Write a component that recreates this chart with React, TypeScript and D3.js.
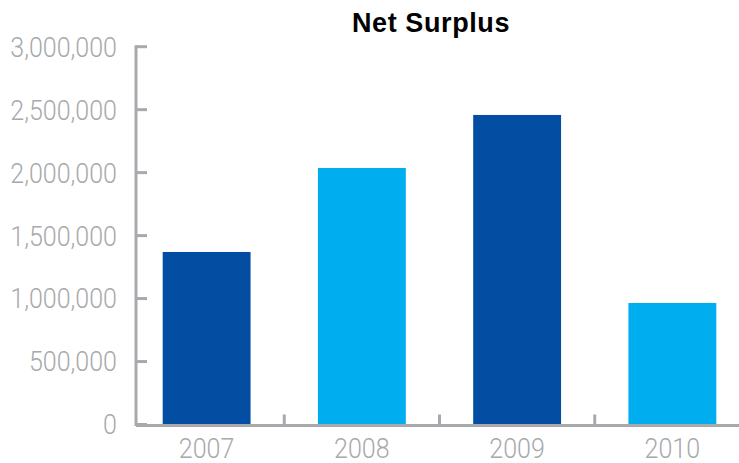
import React from "react";
import * as d3 from "d3";

const categories = ["2007", "2008", "2009", "2010"];
const values = [1370000, 2037000, 2458000, 965000];
const barColors = ["#034EA2", "#00AEEF", "#034EA2", "#00AEEF"];
const yTicks = [0, 500000, 1000000, 1500000, 2000000, 2500000, 3000000];
const title = "Net Surplus";

const W = 739;
const H = 463;
const axisX = 136;
const zeroY = 424.5;
const topY = 46.7;
const gray = "#A7A9AC";
const labelFont = "'Roboto', sans-serif";
const sx = 0.91;

export default function App() {
  const y = d3.scaleLinear().domain([0, 3000000]).range([zeroY, topY]);
  const x = d3.scaleBand<string>().domain(categories).range([129, 750]).paddingInner(0.434).paddingOuter(0.217);
  const fmt = d3.format(",");
  const bounds = categories.slice(1).map((c) => (x(c)! - (x.step() - x.bandwidth()) / 2));
  return (
    <svg width={W} height={H} style={{ position: "absolute", left: 0, top: 0 }}>
      <rect width={W} height={H} fill="#fff" />
      <text x={431} y={32} textAnchor="middle" fontFamily="'Liberation Sans', Arial, sans-serif" fontWeight="bold" fontSize={27} letterSpacing={0.6} fill="#000">
        {title}
      </text>
      {categories.map((c, i) => (
        <rect key={c} x={x(c)} y={y(values[i])} width={x.bandwidth()} height={zeroY - y(values[i])} fill={barColors[i]} />
      ))}
      <line x1={axisX} x2={axisX} y1={topY - 1.5} y2={zeroY + 1.5} stroke={gray} strokeWidth={3} />
      {yTicks.map((t) => (
        <g key={t}>
          <line x1={axisX} x2={147} y1={y(t)} y2={y(t)} stroke={gray} strokeWidth={3} />
          <g transform={`translate(117,${y(t)}) scale(${sx},1)`}>
            <text x={0} y={0} dy="0.36em" textAnchor="end" fontFamily={labelFont} fontWeight={300} fontSize={27.5} fill={gray}>
              {fmt(t)}
            </text>
          </g>
        </g>
      ))}
      <line x1={axisX} x2={W} y1={zeroY + 1} y2={zeroY + 1} stroke={gray} strokeWidth={3} />
      {bounds.map((b, i) => (
        <line key={i} x1={b} x2={b} y1={zeroY + 1} y2={zeroY - 10} stroke={gray} strokeWidth={3} />
      ))}
      {categories.map((c) => (
        <g key={c} transform={`translate(${x(c)! + x.bandwidth() / 2},458) scale(${sx},1)`}>
          <text x={0} y={0} textAnchor="middle" fontFamily={labelFont} fontWeight={300} fontSize={27.5} fill={gray}>
            {c}
          </text>
        </g>
      ))}
    </svg>
  );
}
